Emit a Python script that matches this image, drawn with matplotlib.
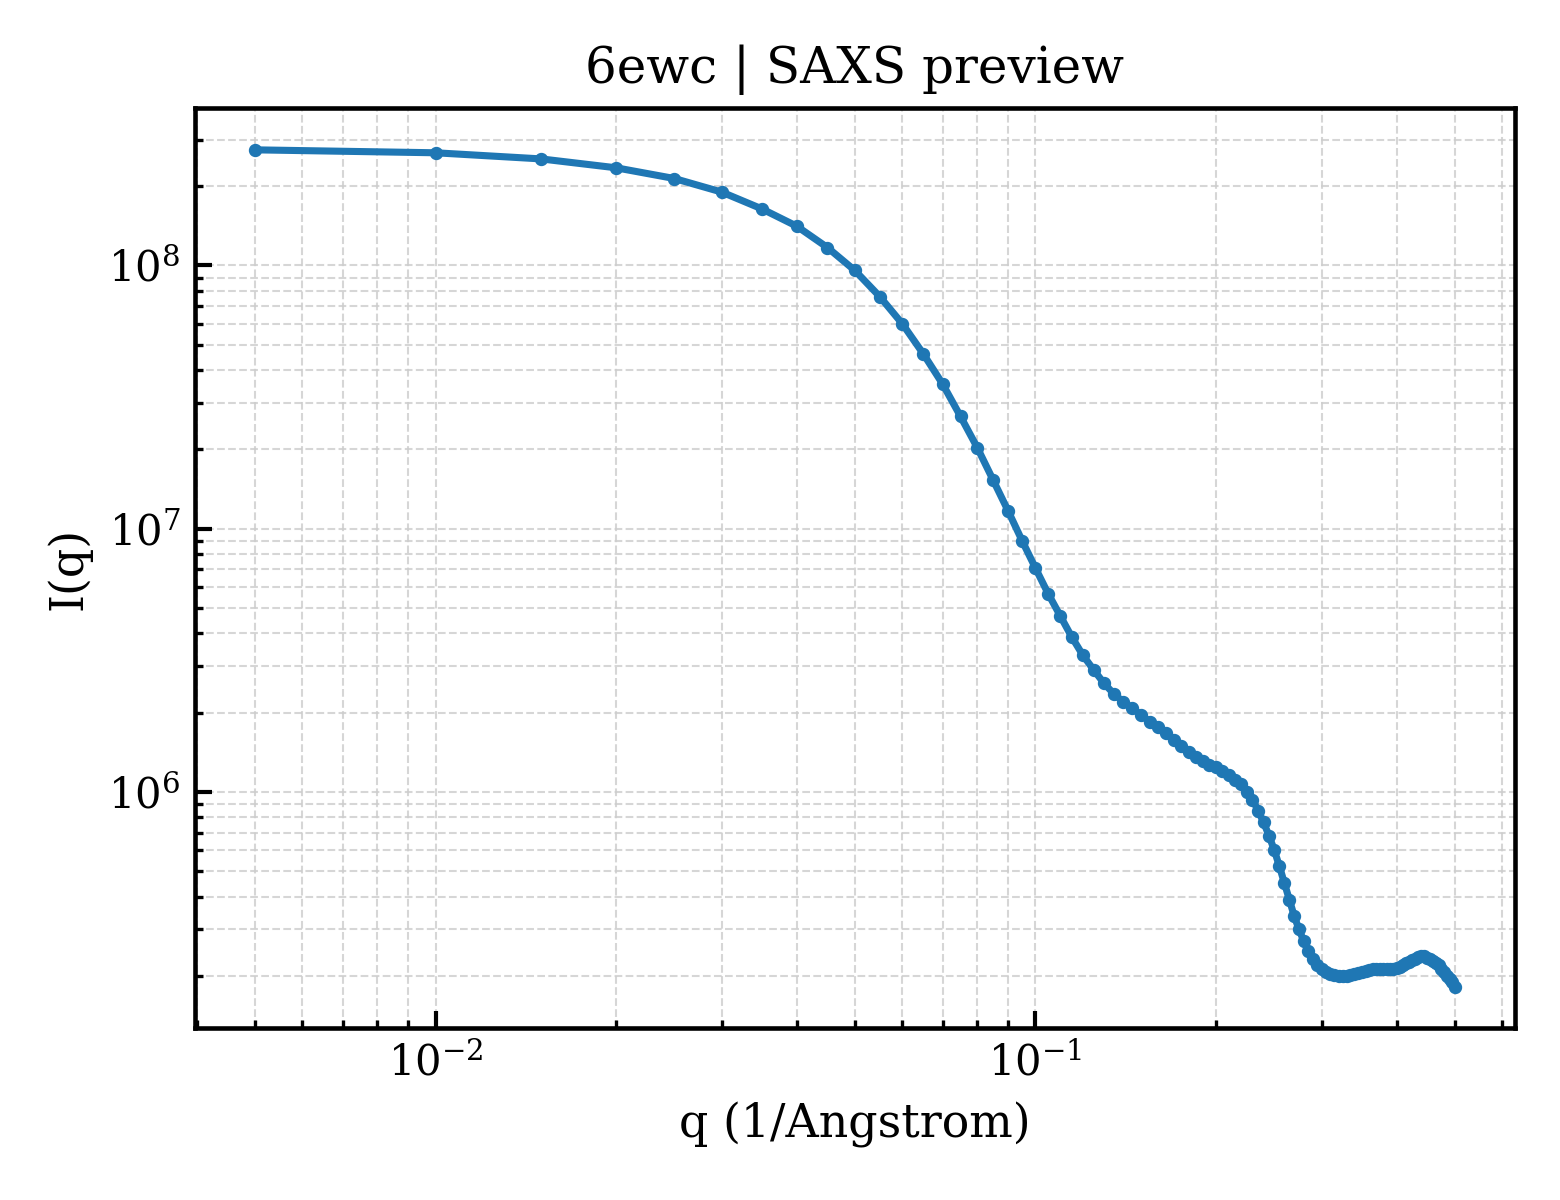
import matplotlib
matplotlib.use("Agg")
import matplotlib.pyplot as plt
import numpy as np

plt.rcParams['font.family'] = ['DejaVu Serif']
plt.rcParams['mathtext.fontset'] = 'dejavuserif'

q = [0.005, 0.010, 0.015, 0.020, 0.025, 0.030, 0.035, 0.040, 0.045, 0.050,
     0.055, 0.060, 0.065, 0.070, 0.075, 0.080, 0.085, 0.090, 0.095, 0.100,
     0.105, 0.110, 0.115, 0.120, 0.125, 0.130, 0.135, 0.140, 0.145, 0.150,
     0.155, 0.160, 0.165, 0.170, 0.175, 0.180, 0.185, 0.190, 0.195, 0.200,
     0.205, 0.210, 0.215, 0.220, 0.225, 0.230, 0.235, 0.240, 0.245, 0.250,
     0.255, 0.260, 0.265, 0.270, 0.275, 0.280, 0.285, 0.290, 0.295, 0.300,
     0.305, 0.310, 0.315, 0.320, 0.325, 0.330, 0.335, 0.340, 0.345, 0.350,
     0.355, 0.360, 0.365, 0.370, 0.375, 0.380, 0.385, 0.390, 0.395, 0.400,
     0.405, 0.410, 0.415, 0.420, 0.425, 0.430, 0.435, 0.440, 0.445, 0.450,
     0.455, 0.460, 0.465, 0.470, 0.475, 0.480, 0.485, 0.490, 0.495, 0.500]

intensity = [2.75e8, 2.68e8, 2.54e8, 2.35e8, 2.14e8, 1.90e8, 1.64e8, 1.41e8, 1.17e8, 9.57e7,
             7.62e7, 6.00e7, 4.62e7, 3.55e7, 2.67e7, 2.03e7, 1.53e7, 1.17e7, 9.00e6, 7.08e6,
             5.66e6, 4.66e6, 3.87e6, 3.30e6, 2.91e6, 2.59e6, 2.36e6, 2.20e6, 2.08e6, 1.96e6,
             1.85e6, 1.76e6, 1.67e6, 1.57e6, 1.49e6, 1.42e6, 1.36e6, 1.31e6, 1.27e6, 1.24e6,
             1.20e6, 1.16e6, 1.11e6, 1.07e6, 1.00e6, 9.35e5, 8.49e5, 7.67e5, 6.82e5, 6.02e5,
             5.22e5, 4.50e5, 3.89e5, 3.37e5, 3.00e5, 2.71e5, 2.49e5, 2.32e5, 2.20e5, 2.12e5,
             2.07e5, 2.03e5, 2.01e5, 2.00e5, 1.99e5, 2.00e5, 2.02e5, 2.03e5, 2.05e5, 2.07e5,
             2.09e5, 2.11e5, 2.12e5, 2.12e5, 2.12e5, 2.12e5, 2.12e5, 2.12e5, 2.13e5, 2.14e5,
             2.16e5, 2.19e5, 2.23e5, 2.26e5, 2.30e5, 2.32e5, 2.35e5, 2.37e5, 2.37e5, 2.34e5,
             2.32e5, 2.28e5, 2.23e5, 2.19e5, 2.12e5, 2.06e5, 2.00e5, 1.95e5, 1.89e5, 1.82e5]

title = "6ewc | SAXS preview"
xlabel = "q (1/Angstrom)"
ylabel = "I(q)"

fig, ax = plt.subplots(figsize=(5.2, 4), dpi=300)
ax.plot(q, intensity, '-o', color='#1f77b4', lw=1.7, ms=2.2)
ax.set_xscale('log')
ax.set_yscale('log')
ax.set_title(title, fontsize=12)
ax.set_xlabel(xlabel, fontsize=11)
ax.set_ylabel(ylabel, fontsize=11)
ax.grid(True, which='both', ls='--', lw=0.5, color='#cccccc', alpha=0.8)
ax.tick_params(which='both', direction='in', labelsize=10)
ax.tick_params(which='major', length=4, width=1)
ax.tick_params(which='minor', length=2, width=0.8)
for s in ax.spines.values():
    s.set_linewidth(1.1)
fig.subplots_adjust(left=0.125, right=0.971, top=0.91, bottom=0.143)
fig.savefig("out.png", dpi=300)
